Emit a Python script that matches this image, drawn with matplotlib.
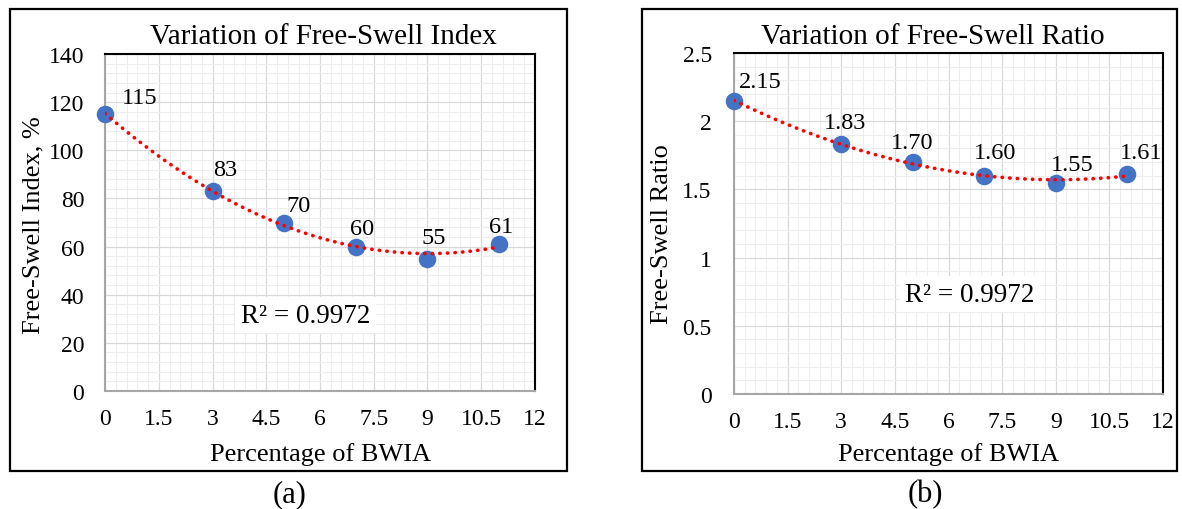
import numpy as np
import matplotlib
matplotlib.use("Agg")
import matplotlib.pyplot as plt
from matplotlib.patches import Rectangle
from matplotlib.ticker import MultipleLocator, FuncFormatter

# ---- data ----
bwia_pct = [0, 3, 5, 7, 9, 11]
swell_index = [115, 83, 70, 60, 55, 61]
swell_ratio = [2.15, 1.83, 1.70, 1.60, 1.55, 1.61]
index_labels = ["115", "83", "70", "60", "55", "61"]
ratio_labels = ["2.15", "1.83", "1.70", "1.60", "1.55", "1.61"]
r2_index = 0.9972
r2_ratio = 0.9972

plt.rcParams["font.family"] = ["Liberation Serif", "DejaVu Serif"]

W, H = 1182, 510
fig = plt.figure(figsize=(W / 100, H / 100), dpi=100)


def fx(px):
    return px / W


def fy(py):
    return 1 - py / H


def panel(rect_px, frame_px, x, y, labels, label_offsets, ylim, ymajor, yminor,
          title, title_x, ylabel, ylabel_xy, r2, r2_pos, tag, tag_x, ytick_pad):
    l, t, r, b = rect_px
    ax = fig.add_axes([fx(l), fy(b), fx(r - l), (b - t) / H])

    # outer frame around the whole panel
    fl, ft, fr, fb = frame_px
    fig.patches.append(Rectangle((fx(fl), fy(fb)), fx(fr - fl), (fb - ft) / H,
                                 transform=fig.transFigure, fill=False,
                                 edgecolor="black", linewidth=1.6))

    ax.set_xlim(0, 12)
    ax.set_ylim(*ylim)
    ax.xaxis.set_major_locator(MultipleLocator(1.5))
    ax.xaxis.set_minor_locator(MultipleLocator(0.3))
    ax.yaxis.set_major_locator(MultipleLocator(ymajor))
    ax.yaxis.set_minor_locator(MultipleLocator(yminor))
    fmt = FuncFormatter(lambda v, p: f"{v:g}")
    ax.xaxis.set_major_formatter(fmt)
    ax.yaxis.set_major_formatter(fmt)
    ax.grid(which="major", color="#d9d9d9", linewidth=0.9)
    ax.grid(which="minor", color="#ededed", linewidth=0.8)
    ax.set_axisbelow(True)
    ax.tick_params(which="both", length=0, labelsize=17)
    ax.tick_params(axis="x", pad=12)
    ax.tick_params(axis="y", pad=ytick_pad)
    for s in ("left", "bottom"):
        ax.spines[s].set_color("#a6a6a6")
        ax.spines[s].set_linewidth(1.5)
    for s in ("top", "right"):
        ax.spines[s].set_color("black")
        ax.spines[s].set_linewidth(1.5)

    # points and 2nd-order trendline
    ax.scatter(x, y, s=135, color="#4472C4", zorder=3, clip_on=False)
    coef = np.polyfit(x, y, 2)
    xs = np.linspace(min(x), max(x), 200)
    ax.plot(xs, np.polyval(coef, xs), color="red", linewidth=2.6,
            linestyle=(0, (0.1, 2.0)), dash_capstyle="round", zorder=4)

    for xi, yi, lab, (dx, dy) in zip(x, y, labels, label_offsets):
        ax.annotate(lab, (xi, yi), xytext=(dx, dy), textcoords="offset pixels",
                    ha="center", va="center", fontsize=17.5, zorder=5)

    ax.text(*r2_pos, f"R² = {r2:.4f}", transform=ax.transAxes, ha="center",
            va="center", fontsize=19.5, zorder=5,
            bbox=dict(facecolor="white", edgecolor="none", pad=4))

    fig.text(fx(title_x), fy(44), title, ha="center", va="baseline", fontsize=21)
    fig.text(fx(ylabel_xy[0]), fy(ylabel_xy[1]), ylabel, rotation=90,
             ha="center", va="center", fontsize=19)
    fig.text(fx((l + r) / 2), fy(461), "Percentage of BWIA", ha="center",
             va="baseline", fontsize=19)
    fig.text(fx(tag_x), fy(495), tag, ha="center", va="center", fontsize=22)
    return ax


panel((105, 55, 535, 392), (10, 10, 567, 472), bwia_pct, swell_index,
      index_labels,
      [(35, 17), (13, 22), (14, 17), (6, 18), (6, 21), (2, 18)],
      (0, 140), 20, 4, "Variation of Free-Swell Index", 323,
      "Free-Swell Index, %", (33, 225), r2_index, (0.467, 0.2255), "(a)", 290,
      15)

panel((734, 54, 1163, 395), (642, 10, 1177, 472), bwia_pct, swell_ratio,
      ratio_labels,
      [(26, 19), (4, 22), (-1, 20), (11, 23), (16, 18), (14, 22)],
      (0, 2.5), 0.5, 0.1, "Variation of Free-Swell Ratio", 933,
      "Free-Swell Ratio", (662, 234), r2_ratio, (0.55, 0.293), "(b)", 925,
      16)

fig.savefig("out.png", dpi=100)
